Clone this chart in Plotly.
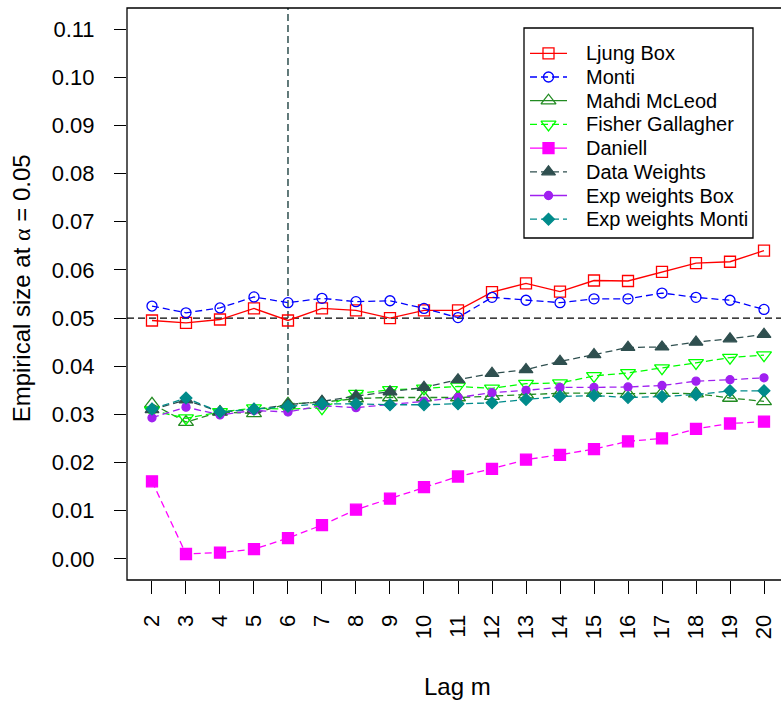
import plotly.graph_objects as go

# Lag values on the x axis
lags = list(range(2, 21))

# Empirical size of each portmanteau test at alpha = 0.05
ljung_box = [0.0495, 0.0490, 0.0497, 0.0520, 0.0495, 0.0520, 0.0516, 0.0500, 0.0516, 0.0516,
             0.0554, 0.0572, 0.0555, 0.0578, 0.0577, 0.0596, 0.0614, 0.0617, 0.0640]
monti = [0.0525, 0.0511, 0.0521, 0.0544, 0.0532, 0.0541, 0.0534, 0.0536, 0.0520, 0.0501,
         0.0543, 0.0537, 0.0532, 0.0540, 0.0540, 0.0552, 0.0543, 0.0537, 0.0518]
mahdi_mcleod = [0.0322, 0.0284, 0.0305, 0.0302, 0.0322, 0.0325, 0.0333, 0.0335, 0.0335, 0.0335,
                0.0338, 0.0341, 0.0344, 0.0344, 0.0343, 0.0344, 0.0343, 0.0334, 0.0327]
fisher_gallagher = [0.0308, 0.0292, 0.0305, 0.0313, 0.0311, 0.0313, 0.0343, 0.0351, 0.0354, 0.0358,
                    0.0354, 0.0364, 0.0365, 0.0380, 0.0386, 0.0396, 0.0407, 0.0418, 0.0423]
daniell = [0.0161, 0.0010, 0.0013, 0.0020, 0.0043, 0.0070, 0.0102, 0.0125, 0.0149, 0.0171,
           0.0187, 0.0206, 0.0216, 0.0228, 0.0244, 0.0250, 0.0270, 0.0281, 0.0285]
data_weights = [0.0310, 0.0330, 0.0305, 0.0310, 0.0320, 0.0327, 0.0338, 0.0347, 0.0356, 0.0372,
                0.0385, 0.0393, 0.0410, 0.0424, 0.0439, 0.0440, 0.0450, 0.0457, 0.0466]
exp_weights_box = [0.0293, 0.0315, 0.0299, 0.0308, 0.0305, 0.0318, 0.0314, 0.0320, 0.0327, 0.0335,
                   0.0345, 0.0350, 0.0356, 0.0356, 0.0357, 0.0360, 0.0369, 0.0372, 0.0376]
exp_weights_monti = [0.0311, 0.0334, 0.0305, 0.0311, 0.0317, 0.0322, 0.0322, 0.0320, 0.0320, 0.0322,
                     0.0324, 0.0331, 0.0337, 0.0339, 0.0335, 0.0337, 0.0341, 0.0349, 0.0349]

y_ticks = [0.00, 0.01, 0.02, 0.03, 0.04, 0.05, 0.06, 0.07, 0.08, 0.09, 0.10, 0.11]
nominal_level = 0.05
marked_lag = 6
marked_lag_start = 0.034

FONT = "Liberation Sans, Arial, sans-serif"
FS_KEY = 20
FS_TICK = 22
FS_TITLE = 24
DASH = "7px,4px"
LW = 1.3

# name, values, colour, marker symbol, marker size, line dash in plot, line dash in key
series = [
    ("Ljung Box", ljung_box, "#FF0000", "square-open", 11, "solid", "solid"),
    ("Monti", monti, "#0000FF", "circle-open", 10, DASH, DASH),
    ("Mahdi McLeod", mahdi_mcleod, "#228B22", "triangle-up-open", 13, DASH, "solid"),
    ("Fisher Gallagher", fisher_gallagher, "#00FF00", "triangle-down-open", 13, DASH, DASH),
    ("Daniell", daniell, "#FF00FF", "square", 11, DASH, "solid"),
    ("Data Weights", data_weights, "#2F4F4F", "triangle-up", 12, DASH, DASH),
    ("Exp weights Box", exp_weights_box, "#A020F0", "circle", 8, DASH, "solid"),
    ("Exp weights Monti", exp_weights_monti, "#008B8B", "diamond", 9, DASH, DASH),
]

fig = go.Figure()

for name, vals, col, sym, size, dash, _ in series:
    fig.add_trace(go.Scatter(
        x=lags, y=vals, mode="lines+markers", name=name, showlegend=False,
        line=dict(color=col, width=LW, dash=dash),
        marker=dict(symbol=sym, size=size, color=col, line=dict(color=col, width=LW)),
    ))

# Key drawn on a pixel-scaled overlay axis pair (x: px from plot left edge, y: px from top)
KEY_LEFT, KEY_RIGHT, KEY_TOP, KEY_BOTTOM = 524, 753, 28, 238
KEY_ROW0, KEY_ROW_STEP = 53.3, 23.7
SAMPLE_X0, SAMPLE_X1, TEXT_X = 530, 567, 584

annotations = []
for i, (name, vals, col, sym, size, _, kdash) in enumerate(series):
    ry = KEY_ROW0 + i * KEY_ROW_STEP
    fig.add_trace(go.Scatter(
        x=[SAMPLE_X0, SAMPLE_X1], y=[ry, ry], mode="lines", xaxis="x2", yaxis="y2",
        showlegend=False, hoverinfo="skip",
        line=dict(color=col, width=LW, dash=kdash),
    ))
    fig.add_trace(go.Scatter(
        x=[(SAMPLE_X0 + SAMPLE_X1) / 2], y=[ry], mode="markers", xaxis="x2", yaxis="y2",
        showlegend=False, hoverinfo="skip",
        marker=dict(symbol=sym, size=size, color=col, line=dict(color=col, width=LW)),
    ))
    annotations.append(dict(
        text=name, xref="x2", yref="y2", x=TEXT_X, y=ry, showarrow=False,
        xanchor="left", yanchor="middle", font=dict(family=FONT, size=FS_KEY, color="black"),
    ))

shapes = [
    # nominal level
    dict(type="line", xref="paper", yref="y", x0=0, x1=1.05, y0=nominal_level, y1=nominal_level,
         line=dict(color="black", width=LW, dash=DASH), layer="below"),
    # marked lag
    dict(type="line", xref="x", yref="y", x0=marked_lag, x1=marked_lag, y0=marked_lag_start, y1=0.2,
         line=dict(color="#2F4F4F", width=1.5, dash=DASH), layer="below"),
    # plot frame
    dict(type="rect", xref="paper", yref="paper", x0=0, x1=1.05, y0=0, y1=1,
         line=dict(color="black", width=LW)),
    # key frame
    dict(type="rect", xref="x2", yref="y2", x0=KEY_LEFT, x1=KEY_RIGHT, y0=KEY_TOP, y1=KEY_BOTTOM,
         line=dict(color="black", width=LW)),
]

annotations += [
    dict(text="Lag m", xref="paper", yref="paper", x=0.506, y=-0.187, showarrow=False,
         xanchor="center", yanchor="middle", font=dict(family=FONT, size=FS_TITLE, color="black")),
    dict(text="Empirical size at <span style='font-family:Liberation Serif, serif'>α</span> = 0.05",
         xref="paper", yref="paper", x=-0.162, y=0.51, showarrow=False, textangle=-90,
         xanchor="center", yanchor="middle", font=dict(family=FONT, size=FS_TITLE, color="black")),
]

fig.update_layout(
    width=781, height=701,
    margin=dict(l=127, r=0, t=8, b=121),
    paper_bgcolor="white", plot_bgcolor="white",
    font=dict(family=FONT, size=FS_TICK, color="black"),
    shapes=shapes, annotations=annotations,
    showlegend=False,
    xaxis=dict(
        range=[1.265, 20.5], tickmode="array", tickvals=lags, ticktext=[str(v) for v in lags],
        tickangle=-90, ticks="outside", ticklen=13, tickwidth=LW, tickcolor="black",
        showgrid=False, zeroline=False, showline=False, ticklabelstandoff=12,
        tickfont=dict(family=FONT, size=FS_TICK, color="black"),
    ),
    yaxis=dict(
        range=[-0.0044, 0.1144], tickmode="array", tickvals=y_ticks,
        ticktext=[f"{v:.2f}" for v in y_ticks],
        ticks="outside", ticklen=12, tickwidth=LW, tickcolor="black",
        showgrid=False, zeroline=False, showline=False, ticklabelstandoff=15,
        tickfont=dict(family=FONT, size=FS_TICK, color="black"),
    ),
    xaxis2=dict(range=[127, 781], overlaying="x", anchor="y2", visible=False, fixedrange=True),
    yaxis2=dict(range=[580, 8], overlaying="y", anchor="x2", visible=False, fixedrange=True),
)

fig.write_html("out.html")
